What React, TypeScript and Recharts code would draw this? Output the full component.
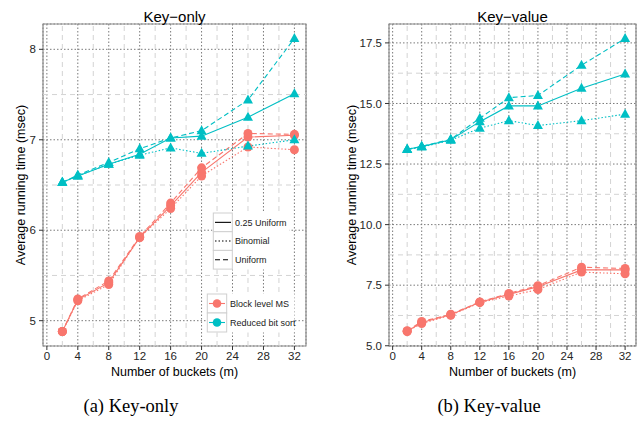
import React from 'react';
import {
  CartesianGrid,
  Line,
  LineChart,
  ReferenceArea,
  ReferenceLine,
  XAxis,
  YAxis,
} from 'recharts';

// bucket counts (m)
const BUCKETS = [2, 4, 8, 12, 16, 20, 26, 32];

// Key-only, msec
const koBlockU025 = [4.88, 5.23, 5.42, 5.92, 6.27, 6.64, 7.03, 7.05];
const koBlockBinom = [4.88, 5.22, 5.4, 5.92, 6.24, 6.6, 6.92, 6.89];
const koBlockUnif = [4.88, 5.24, 5.44, 5.93, 6.3, 6.69, 7.07, 7.06];
const koRbsU025 = [6.53, 6.6, 6.73, 6.84, 7.02, 7.04, 7.25, 7.51];
const koRbsBinom = [6.53, 6.6, 6.73, 6.83, 6.91, 6.85, 6.93, 7.0];
const koRbsUnif = [6.53, 6.61, 6.75, 6.9, 7.02, 7.1, 7.44, 8.12];

// Key-value, msec
const kvBlockU025 = [5.6, 5.96, 6.28, 6.8, 7.12, 7.44, 8.13, 8.13];
const kvBlockBinom = [5.59, 5.92, 6.26, 6.78, 7.05, 7.32, 8.04, 7.97];
const kvBlockUnif = [5.62, 6.0, 6.3, 6.81, 7.16, 7.48, 8.24, 8.19];
const kvRbsU025 = [13.11, 13.22, 13.5, 14.25, 14.9, 14.9, 15.63, 16.22];
const kvRbsBinom = [13.1, 13.2, 13.48, 13.98, 14.29, 14.09, 14.29, 14.56];
const kvRbsUnif = [13.11, 13.23, 13.52, 14.39, 15.24, 15.33, 16.58, 17.68];

const X_TICKS = [0, 4, 8, 12, 16, 20, 24, 28, 32];
const X_MINOR = [2, 6, 10, 14, 18, 22, 26, 30];
const KO_TICKS = [5, 6, 7, 8];
const KO_MINOR = [5.5, 6.5, 7.5];
const KV_TICKS = [5, 7.5, 10, 12.5, 15, 17.5];
const KV_MINOR = [6.25, 8.75, 11.25, 13.75, 16.25];

const RED = '#F8766D';
const CYAN = '#00BFC4';
const SANS = '"Liberation Sans", Arial, Helvetica, sans-serif';
const SERIF = '"Liberation Serif", "Times New Roman", serif';
const DASH: Record<string, string | undefined> = { u025: undefined, binom: '1.5 2', unif: '5 3' };

function rows(cols: Record<string, number[]>) {
  return BUCKETS.map((x, i) => {
    const r: Record<string, number> = { x };
    for (const k of Object.keys(cols)) r[k] = cols[k][i];
    return r;
  });
}

const koRows = rows({
  b_u025: koBlockU025, b_binom: koBlockBinom, b_unif: koBlockUnif,
  r_u025: koRbsU025, r_binom: koRbsBinom, r_unif: koRbsUnif,
});
const kvRows = rows({
  b_u025: kvBlockU025, b_binom: kvBlockBinom, b_unif: kvBlockUnif,
  r_u025: kvRbsU025, r_binom: kvRbsBinom, r_unif: kvRbsUnif,
});

function Tri(props: any) {
  const { cx, cy, key } = props;
  if (cx == null || cy == null) return null;
  return (
    <polygon
      key={key}
      points={`${cx},${cy - 5.5} ${cx - 5},${cy + 3.5} ${cx + 5},${cy + 3.5}`}
      fill={CYAN}
    />
  );
}

function Panel({
  data, width, yWidth, right, yDomain, yTicks, yMinor, tickFmt,
}: {
  data: Array<Record<string, number>>;
  width: number;
  yWidth: number;
  right: number;
  yDomain: [number, number];
  yTicks: number[];
  yMinor: number[];
  tickFmt?: (v: number) => string;
}) {
  const tick = { fontSize: 11.5, fill: '#262626', fontFamily: SANS };
  const series = ['u025', 'binom', 'unif'];
  return (
    <LineChart width={width} height={380} data={data} margin={{ top: 24, right, bottom: 0, left: 0 }}>
      <XAxis
        dataKey="x"
        type="number"
        domain={[-0.5, 33.5]}
        ticks={X_TICKS}
        allowDataOverflow
        height={34}
        axisLine={false}
        tickSize={4}
        tickMargin={2}
        tickLine={{ stroke: '#333' }}
        tick={tick}
      />
      <YAxis
        type="number"
        domain={yDomain}
        ticks={yTicks}
        allowDataOverflow
        width={yWidth}
        axisLine={false}
        tickSize={4}
        tickMargin={3}
        tickLine={{ stroke: '#333' }}
        tick={tick}
        tickFormatter={tickFmt}
      />
      {X_MINOR.map((v) => (
        <ReferenceLine key={'vx' + v} x={v} stroke="#d3d3d3" strokeDasharray="5 4" />
      ))}
      {yMinor.map((v) => (
        <ReferenceLine key={'hy' + v} y={v} stroke="#d3d3d3" strokeDasharray="5 4" />
      ))}
      <CartesianGrid stroke="#7a7a7a" strokeDasharray="1.5 2" />
      <ReferenceArea
        x1={-0.5}
        x2={33.5}
        y1={yDomain[0]}
        y2={yDomain[1]}
        fill="none"
        stroke="#8c8c8c"
        strokeWidth={1.2}
        ifOverflow="visible"
      />
      {series.map((s) => (
        <Line
          key={'b' + s}
          dataKey={'b_' + s}
          stroke={RED}
          strokeWidth={1.1}
          strokeDasharray={DASH[s]}
          dot={{ r: 4.5, fill: RED, stroke: 'none' }}
          activeDot={false}
          isAnimationActive={false}
        />
      ))}
      {series.map((s) => (
        <Line
          key={'r' + s}
          dataKey={'r_' + s}
          stroke={CYAN}
          strokeWidth={1.1}
          strokeDasharray={DASH[s]}
          dot={Tri}
          activeDot={false}
          isAnimationActive={false}
        />
      ))}
    </LineChart>
  );
}

function Overlay() {
  const lt = { fontFamily: SANS, fontSize: 9, fill: '#1a1a1a' };
  const keyBox = { fill: '#fff', stroke: '#cfcfcf', strokeWidth: 1 };
  const ltKeys = [
    { label: '0.25 Uniform', dash: undefined, y: 213 },
    { label: 'Binomial', dash: '1.5 2', y: 231.7 },
    { label: 'Uniform', dash: '5 3', y: 250.4 },
  ];
  const colKeys = [
    { label: 'Block level MS', color: RED, y: 294 },
    { label: 'Reduced bit sort', color: CYAN, y: 313 },
  ];
  return (
    <svg width={644} height={422} style={{ position: 'absolute', left: 0, top: 0 }}>
      <text x={174.5} y={16} textAnchor="middle" dominantBaseline="central" fontFamily={SANS} fontSize={15} fill="#000">
        Key−only
      </text>
      <text x={512.5} y={16} textAnchor="middle" dominantBaseline="central" fontFamily={SANS} fontSize={15} fill="#000">
        Key−value
      </text>
      <text x={174.5} y={372} textAnchor="middle" dominantBaseline="central" fontFamily={SANS} fontSize={12.5} fill="#000">
        Number of buckets (m)
      </text>
      <text x={512.5} y={372} textAnchor="middle" dominantBaseline="central" fontFamily={SANS} fontSize={12.5} fill="#000">
        Number of buckets (m)
      </text>
      <text transform="translate(21,185) rotate(-90)" textAnchor="middle" dominantBaseline="central" fontFamily={SANS} fontSize={12.5} fill="#000">
        Average running time (msec)
      </text>
      <text transform="translate(352,185) rotate(-90)" textAnchor="middle" dominantBaseline="central" fontFamily={SANS} fontSize={12.5} fill="#000">
        Average running time (msec)
      </text>
      <text x={131} y={406} textAnchor="middle" dominantBaseline="central" fontFamily={SERIF} fontSize={18.5} fill="#000">
        (a) Key-only
      </text>
      <text x={489} y={406} textAnchor="middle" dominantBaseline="central" fontFamily={SERIF} fontSize={18.5} fill="#000">
        (b) Key-value
      </text>

      <rect x={212.5} y={212.5} width={77} height={57} fill="#fff" />
      {ltKeys.map((k) => (
        <g key={k.label}>
          <rect x={213.3} y={k.y} width={19} height={18.7} {...keyBox} />
          <line x1={215} x2={231} y1={k.y + 9.35} y2={k.y + 9.35} stroke="#000" strokeWidth={1.1} strokeDasharray={k.dash} />
          <text x={235} y={k.y + 9.6} dominantBaseline="central" {...lt}>{k.label}</text>
        </g>
      ))}

      <rect x={206.5} y={293.5} width={88} height={39} fill="#fff" />
      {colKeys.map((k) => (
        <g key={k.label}>
          <rect x={207.3} y={k.y} width={19.4} height={19} {...keyBox} />
          <line x1={209} x2={225} y1={k.y + 9.5} y2={k.y + 9.5} stroke={k.color} strokeWidth={1.1} />
          <circle cx={217} cy={k.y + 9.5} r={4.3} fill={k.color} />
          <text x={230} y={k.y + 9.7} dominantBaseline="central" {...lt}>{k.label}</text>
        </g>
      ))}
    </svg>
  );
}

export default function App() {
  return (
    <div style={{ position: 'absolute', left: 0, top: 0, width: 644, height: 422, background: '#fff' }}>
      <div style={{ position: 'absolute', left: 0, top: 0 }}>
        <Panel
          data={koRows}
          width={320}
          yWidth={43}
          right={14}
          yDomain={[4.72, 8.28]}
          yTicks={KO_TICKS}
          yMinor={KO_MINOR}
        />
      </div>
      <div style={{ position: 'absolute', left: 320, top: 0 }}>
        <Panel
          data={kvRows}
          width={324}
          yWidth={69}
          right={8}
          yDomain={[4.99, 18.28]}
          yTicks={KV_TICKS}
          yMinor={KV_MINOR}
          tickFmt={(v: number) => v.toFixed(1)}
        />
      </div>
      <Overlay />
    </div>
  );
}
